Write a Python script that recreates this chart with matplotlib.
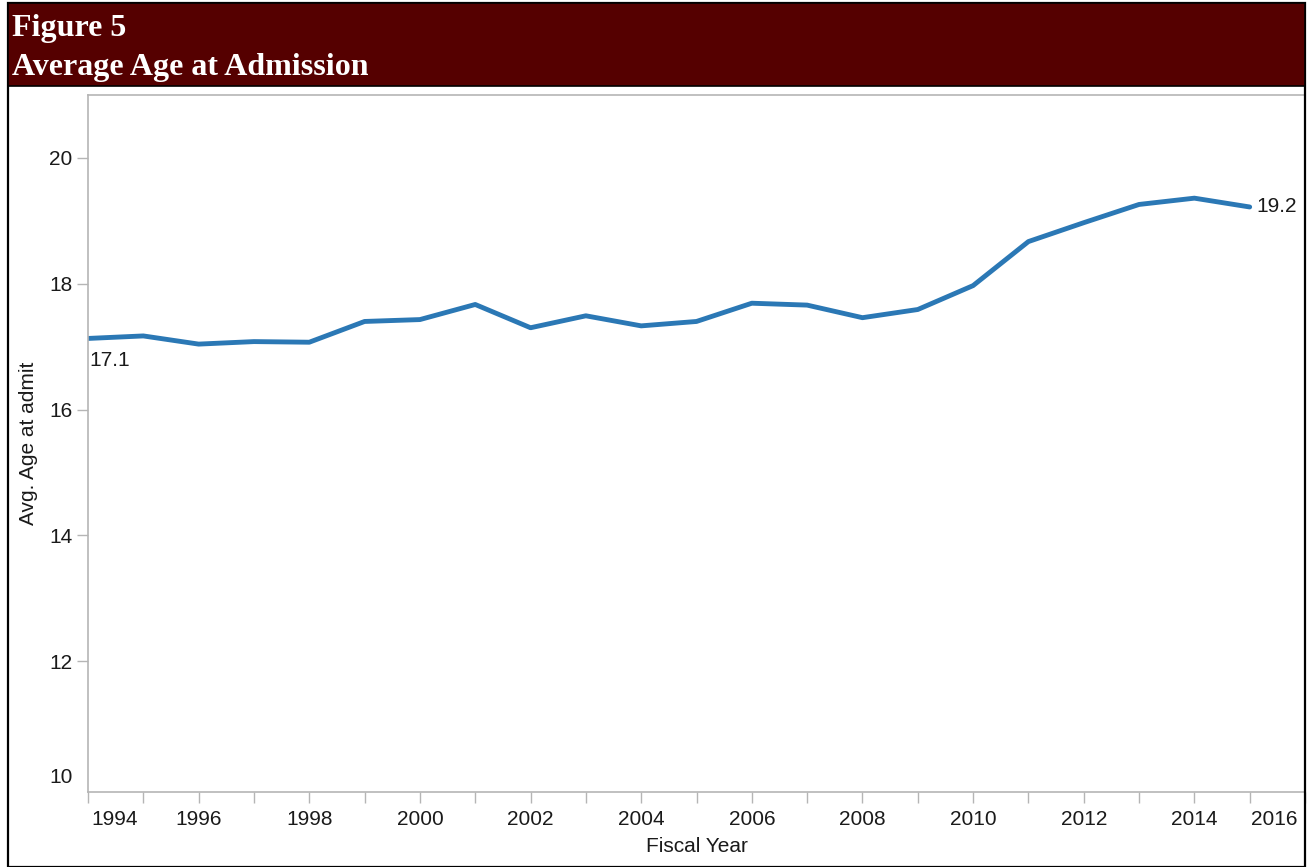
import matplotlib.pyplot as plt
import matplotlib.transforms as mtransforms
from matplotlib.patches import Rectangle

# ============================================================
# DATA
# ============================================================

years = list(range(1994, 2016))
avg_age = [
    17.13, 17.17, 17.04, 17.08, 17.07, 17.40, 17.43, 17.67,
    17.30, 17.49, 17.33, 17.40, 17.69, 17.66, 17.46, 17.59,
    17.97, 18.67, 18.97, 19.26, 19.36, 19.22,
]
y_ticks = [10, 12, 14, 16, 18, 20]
x_label_years = list(range(1994, 2017, 2))

title_line1 = "Figure 5"
title_line2 = "Average Age at Admission"

# ============================================================
# STYLE
# ============================================================

plt.rcParams["font.family"] = ["Liberation Sans", "DejaVu Sans"]

HEADER_COLOR = "#550000"
LINE_COLOR = "#2b78b5"
AXIS_GRAY = "#b5b5b5"
TEXT_COLOR = "#1a1a1a"

W, H = 1312, 867
fig = plt.figure(figsize=(W / 100, H / 100), dpi=100)

# outer frame + header band
fig.patches.append(Rectangle((8 / W, 0), (1305 - 8) / W, 1 - 3 / H,
                             transform=fig.transFigure, fill=False,
                             edgecolor="black", linewidth=1.6))
fig.patches.append(Rectangle((8 / W, 1 - 86 / H), (1305 - 8) / W, (86 - 3) / H,
                             transform=fig.transFigure, facecolor=HEADER_COLOR,
                             edgecolor="black", linewidth=1.2))

fig.text(12 / W, 1 - 36 / H, title_line1, color="white", fontsize=23,
         fontweight="bold", family="Liberation Serif", va="baseline")
fig.text(12 / W, 1 - 75 / H, title_line2, color="white", fontsize=23,
         fontweight="bold", family="Liberation Serif", va="baseline")

# ============================================================
# PLOT
# ============================================================

ax = fig.add_axes([88 / W, 1 - 792 / H, (1305 - 88) / W, (792 - 95) / H])

ax.plot(years, avg_age, color=LINE_COLOR, linewidth=3.5,
        solid_capstyle="round", solid_joinstyle="round")

ax.set_xlim(1994, 2016)
ax.set_ylim(9.92, 21.0)

for side in ["left", "bottom", "top"]:
    ax.spines[side].set_color(AXIS_GRAY)
    ax.spines[side].set_linewidth(1.2)
ax.spines["right"].set_visible(False)

ax.set_yticks(y_ticks)
ax.set_yticklabels([str(v) for v in y_ticks])
ax.tick_params(axis="y", length=8, width=1, color=AXIS_GRAY,
               labelsize=15, labelcolor=TEXT_COLOR, pad=3)
# bottom label sits just above the axis line, without a tick
ax.get_yticklabels()[0].set_verticalalignment("bottom")
ax.yaxis.get_major_ticks()[0].tick1line.set_visible(False)

ax.set_xticks(years + [2016])
ax.set_xticklabels([str(y) if y in x_label_years else "" for y in years + [2016]])
ax.tick_params(axis="x", length=8, width=1, color=AXIS_GRAY,
               labelsize=15, labelcolor=TEXT_COLOR, pad=5)
xlabels = ax.get_xticklabels()
xlabels[0].set_horizontalalignment("left")
xlabels[0].set_transform(xlabels[0].get_transform() +
                         mtransforms.ScaledTranslation(3 / 100, 0, fig.dpi_scale_trans))
xlabels[-1].set_horizontalalignment("right")
xlabels[-1].set_transform(xlabels[-1].get_transform() +
                          mtransforms.ScaledTranslation(-8 / 100, 0, fig.dpi_scale_trans))

ax.set_xlabel("Fiscal Year", fontsize=15, color=TEXT_COLOR, labelpad=6)
ax.set_ylabel("Avg. Age at admit", fontsize=15, color=TEXT_COLOR, labelpad=8)

# end labels
ax.annotate(f"{avg_age[0]:.1f}", (years[0], avg_age[0]), xytext=(1, -9),
            textcoords="offset points", fontsize=15, color=TEXT_COLOR,
            ha="left", va="top")
ax.annotate(f"{avg_age[-1]:.1f}", (years[-1], avg_age[-1]), xytext=(5, 0),
            textcoords="offset points", fontsize=15, color=TEXT_COLOR,
            ha="left", va="center")

fig.savefig("out.png", dpi=100)
